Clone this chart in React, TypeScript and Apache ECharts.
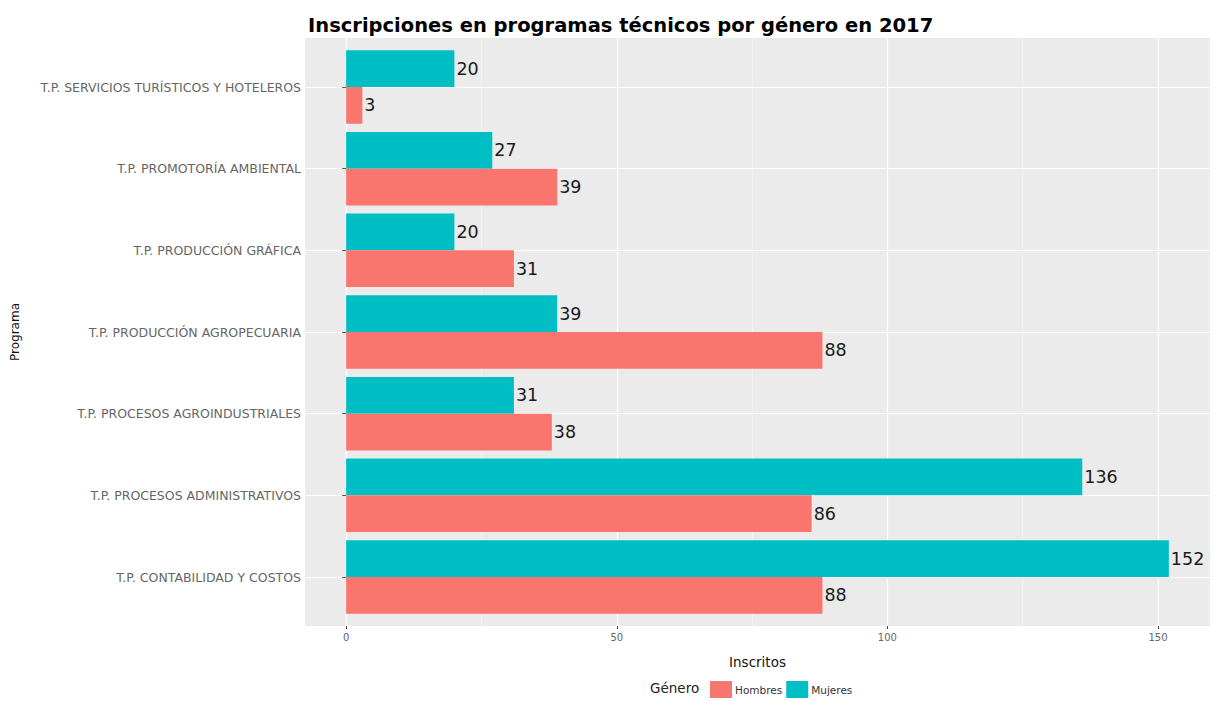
import React, { useEffect, useRef } from "react";
import * as echarts from "echarts";

const categories = [
  "T.P. CONTABILIDAD Y COSTOS",
  "T.P. PROCESOS ADMINISTRATIVOS",
  "T.P. PROCESOS AGROINDUSTRIALES",
  "T.P. PRODUCCIÓN AGROPECUARIA",
  "T.P. PRODUCCIÓN GRÁFICA",
  "T.P. PROMOTORÍA AMBIENTAL",
  "T.P. SERVICIOS TURÍSTICOS Y HOTELEROS",
];
const hombres = [88, 86, 38, 88, 31, 39, 3];
const mujeres = [152, 136, 31, 39, 20, 27, 20];
const xTicks = [0, 50, 100, 150];
const xMinorTicks = [25, 75, 125];
const yCenters = [1, 2, 3, 4, 5, 6, 7];

const FONT = "DejaVu Sans, Liberation Sans, Arial, sans-serif";

export default function App() {
  const ref = useRef<HTMLDivElement>(null);
  useEffect(() => {
    const chart = echarts.init(ref.current!, null, { renderer: "svg" });
    const gLeft = 305;
    const gTop = 38;
    const gWidth = 905;
    const gHeight = 588;
    const pad = gHeight * (0.1 / 7.2);
    const labelStyle = {
      show: true,
      position: "right",
      distance: 2,
      fontSize: 17.5,
      color: "#1a1a1a",
      fontFamily: FONT,
    };
    chart.setOption({
      animation: false,
      backgroundColor: "#ffffff",
      title: {
        text: "Inscripciones en programas técnicos por género en 2017",
        left: 303,
        top: 10,
        textStyle: { fontSize: 19.5, fontWeight: "bold", color: "#000", fontFamily: FONT },
      },
      legend: {
        data: ["Hombres", "Mujeres"],
        left: 710,
        top: 681,
        padding: 0,
        itemWidth: 22,
        itemHeight: 17,
        itemGap: 4,
        icon: "rect",
        textStyle: { fontSize: 10.5, color: "#333", fontFamily: FONT, padding: [0, 0, 0, -2] },
      },
      graphic: [
        {
          type: "text",
          left: 650,
          top: 681,
          style: { text: "Género", fontSize: 13.5, fill: "#222", fontFamily: FONT },
        },
      ],
      grid: [
        {
          left: gLeft,
          top: gTop,
          width: gWidth,
          height: gHeight,
          show: true,
          backgroundColor: "#EBEBEB",
          borderWidth: 0,
          z: 0,
        },
        {
          left: gLeft,
          top: gTop + pad,
          width: gWidth,
          height: gHeight - 2 * pad,
          show: false,
        },
      ],
      xAxis: [
        {
          gridIndex: 0,
          type: "value",
          min: -7.6,
          max: 159.6,
          name: "Inscritos",
          nameLocation: "middle",
          nameGap: 29,
          nameTextStyle: { fontSize: 13.5, color: "#111", fontFamily: FONT },
          axisLine: { show: false },
          axisTick: { show: true, customValues: xTicks, length: 3, lineStyle: { color: "#444" } },
          axisLabel: { customValues: xTicks, fontSize: 10, color: "#666", margin: 6, fontFamily: FONT },
          splitLine: { show: true, lineStyle: { color: "#ffffff", width: 1.2 } },
        },
        {
          gridIndex: 0,
          type: "value",
          min: -7.6,
          max: 159.6,
          position: "bottom",
          axisLine: { show: false },
          axisTick: { show: false, customValues: xMinorTicks },
          axisLabel: { show: false, customValues: xMinorTicks },
          splitLine: { show: true, lineStyle: { color: "#F7F7F7", width: 0.6 } },
        },
        {
          gridIndex: 1,
          type: "value",
          min: -7.6,
          max: 159.6,
          show: false,
        },
      ],
      yAxis: [
        {
          gridIndex: 0,
          type: "value",
          min: 0.4,
          max: 7.6,
          name: "Programa",
          nameLocation: "middle",
          nameGap: 284,
          nameRotate: 90,
          nameTextStyle: { fontSize: 12, color: "#111", fontFamily: FONT },
          axisLine: { show: false },
          axisTick: { show: false, customValues: yCenters },
          axisLabel: { show: false, customValues: yCenters },
          splitLine: { show: true, lineStyle: { color: "#ffffff", width: 1.2 } },
        },
        {
          gridIndex: 1,
          type: "category",
          data: categories,
          axisLine: { show: false },
          axisTick: { show: true, alignWithLabel: true, length: 4, lineStyle: { color: "#555" } },
          axisLabel: { fontSize: 12.5, color: "#666", margin: 4, fontFamily: FONT },
          splitLine: { show: false },
        },
      ],
      series: [
        {
          name: "Mujeres",
          type: "bar",
          xAxisIndex: 2,
          yAxisIndex: 1,
          data: mujeres,
          barGap: "0%",
          barCategoryGap: "10%",
          itemStyle: { color: "#00BFC4" },
          label: labelStyle,
          z: 3,
        },
        {
          name: "Hombres",
          type: "bar",
          xAxisIndex: 2,
          yAxisIndex: 1,
          data: hombres,
          barGap: "0%",
          barCategoryGap: "10%",
          itemStyle: { color: "#F8766D" },
          label: labelStyle,
          z: 3,
        },
      ],
    });
    return () => chart.dispose();
  }, []);
  return <div ref={ref} style={{ width: 1213, height: 701, position: "absolute", left: 0, top: 0 }} />;
}
